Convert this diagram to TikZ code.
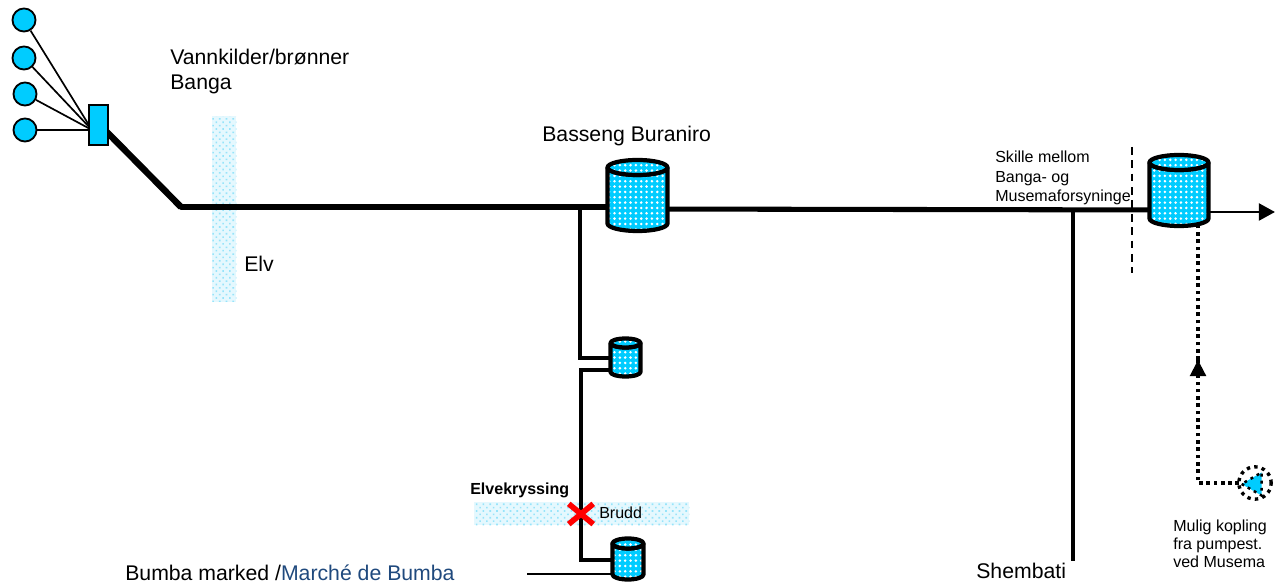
\documentclass[tikz,border=0pt]{standalone}
\usepackage{fontspec}
\setmainfont{Liberation Sans}
\usetikzlibrary{shapes.geometric,patterns.meta,arrows.meta}
\definecolor{watercol}{RGB}{0,204,255}
\definecolor{rivercol}{RGB}{150,228,250}
\definecolor{linkcol}{RGB}{31,73,125}
\tikzset{
  source/.style={circle, draw, line width=1.3pt, fill=watercol, minimum size=16.4pt, inner sep=0},
  collector/.style={rectangle, draw, line width=1.5pt, fill=watercol, minimum width=13.2pt, minimum height=29pt, inner sep=0},
  tankbody/.style={draw, line width=3pt, line join=round, preaction={fill=watercol}, pattern={Dots[radius=1pt, distance=3.8pt]}, pattern color=white},
  river/.style={inner sep=0, preaction={fill=rivercol!25}, pattern={Dots[radius=0.8pt, distance=3.4pt, angle=45]}, pattern color=rivercol},
  pipe/.style={line width=3.6pt},
  branch/.style={line width=2.5pt},
  feed/.style={line width=1.2pt},
  maybe/.style={line width=2.6pt, dash pattern=on 2.6pt off 2.6pt},
  bigtext/.style={font=\fontsize{15.1}{17.8}\selectfont, inner sep=0, align=left},
  smalltext/.style={font=\fontsize{11.4}{13.9}\selectfont, inner sep=0, align=left}
}
% navn, midtpunkt x og y, halv bredde, halv hoyde, ellipsehoyde
\newcommand{\tank}[6]{
  \node[minimum width=2*#4*0.711pt, minimum height=2*#5*0.711pt, inner sep=0] (#1) at (#2,#3) {};
  \draw[tankbody] (#2-#4,#3-#5+#6) -- (#2-#4,#3+#5-#6) arc (180:0:#4 and #6) -- (#2+#4,#3-#5+#6) arc (0:180:#4 and #6) -- cycle;
  \draw[tankbody] (#2,#3-#5+#6) ellipse (#4 and #6);
}
\begin{document}
\begin{tikzpicture}[x=0.025cm, y=-0.025cm]
  \useasboundingbox (0,0) rectangle (1280,582);

  % elver
  \node[river, minimum width=17.1pt, minimum height=132pt, anchor=north west] (elvbanga) at (212,116) {};
  \node[river, minimum width=153pt, minimum height=16.4pt, anchor=north west] (elvkryss) at (474,502) {};

  % kilder
  \node[source] (kilde1) at (24,20) {};
  \node[source] (kilde2) at (24,58) {};
  \node[source] (kilde3) at (25,94) {};
  \node[source] (kilde4) at (25,130) {};
  \coordinate (samle) at (92,130);
  \foreach \k in {1,2,3,4}
    \draw[feed] (kilde\k) -- (samle);

  % hovedledning
  \coordinate (knekk) at (181,207);
  \coordinate (stikk) at (580,207);
  \coordinate (shembatiut) at (1073,210);
  \coordinate (ende) at (1275,212);
  \coordinate (samleut) at (98,123);
  \draw[pipe, line width=4.6pt] (samleut) -- (knekk);
  \draw[pipe, line cap=round] (knekk) -- (637,207);
  \draw[pipe] (637,209) -- (1179,210);
  \draw[-{Triangle[length=11.5pt,width=12pt]}, line width=2pt] (1179,212) -- (ende);
  \node[collector] (samlekum) at (98.5,125) {};

  % stikkledninger
  \draw[branch] (stikk) -- (580,358) -- (625,358);
  \draw[branch] (625,370) -- (581,370) -- (581,560) -- (628,560);
  \coordinate (bumbaut) at (527,574);
  \draw[branch, line width=1.9pt] (bumbaut) -- (628,574);
  \coordinate (shembati) at (1073,561);
  \draw[branch] (shembatiut) -- (shembati);

  % bassenger
  \tank{buraniro}{637.5}{195.5}{30}{35.5}{7.5}
  \tank{musema}{1179}{190.5}{29.5}{35.5}{7.5}
  \tank{tankliten}{625.5}{357.5}{15}{19}{4.5}
  \tank{tankbumba}{628}{559}{15.5}{20.5}{5}

  % skille
  \coordinate (skilletopp) at (1132,147);
  \coordinate (skillebunn) at (1132,273);
  \draw[line width=1.3pt, dash pattern=on 5.5pt off 4pt] (skilletopp) -- (skillebunn);

  % mulig kopling
  \node[regular polygon, regular polygon sides=3, shape border rotate=90, fill=watercol, draw, line width=1.8pt, dash pattern=on 2pt off 3pt, minimum size=19pt, inner sep=0] (pumpe) at (1255,484) {};
  \node[circle, draw, line width=2.4pt, dash pattern=on 2.4pt off 3pt, minimum size=23pt, inner sep=0] (pumpering) at (1255,483) {};
  \coordinate (hjorne) at (1198,483);
  \coordinate (pil) at (1198,360);
  \draw[maybe] (pumpe.west |- hjorne) -- (hjorne) -- (pil);
  \draw[maybe] (pil) -- (musema.south -| pil);
  \draw[-{Triangle[length=11.5pt,width=11.5pt]}, line width=1.5pt] (1198,378) -- (pil);

  % brudd
  \node[inner sep=0, minimum width=17pt, minimum height=14pt] (brudd) at (581,514) {};
  \draw[red, line width=4pt] (brudd.north west) -- (brudd.south east);
  \draw[red, line width=4pt] (brudd.north east) -- (brudd.south west);

  % tekst
  \node[bigtext, anchor=north west] (lblkilder) at (170,49) {Vannkilder/brønner\\Banga};
  \node[bigtext, anchor=base west] (lblelv) at (244,272) {Elv};
  \node[bigtext, anchor=base west] (lblburaniro) at (542,142) {Basseng Buraniro};
  \node[smalltext, anchor=north west] (lblskille) at (995,151) {Skille mellom\\Banga- og\\Musemaforsyninge};
  \node[smalltext, anchor=base west, font=\fontsize{11.4}{13.9}\selectfont\bfseries] (lblkryss) at (470,494) {Elvekryssing};
  \node[smalltext, anchor=base west] (lblbrudd) at (599,518) {Brudd};
  \node[bigtext, anchor=base west] (lblbumba) at (125,580) {Bumba marked /\textcolor{linkcol}{Marché de Bumba}};
  \node[bigtext, anchor=base west] (lblshembati) at (976,578) {Shembati};
  \node[smalltext, anchor=north west, font=\fontsize{11.4}{12.8}\selectfont] (lblmulig) at (1173,520) {Mulig kopling\\fra pumpest.\\ved Musema};
\end{tikzpicture}
\end{document}
